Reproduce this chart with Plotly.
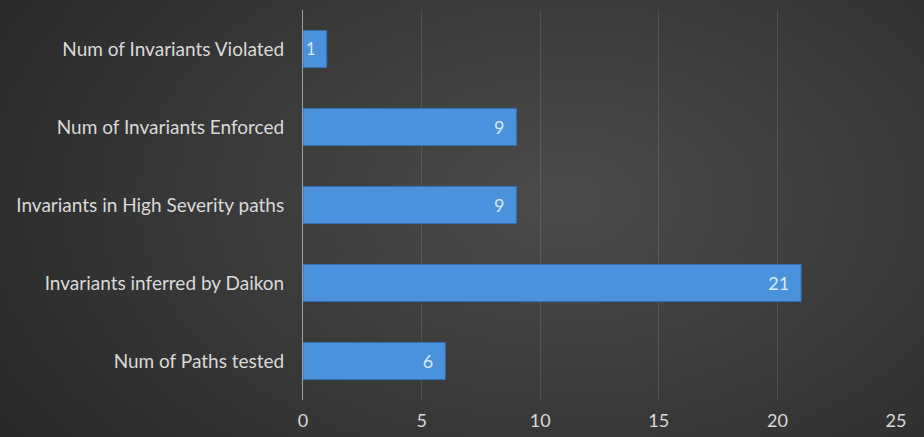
import plotly.graph_objects as go

categories = ["Num of Paths tested", "Invariants inferred by Daikon",
              "Invariants in High Severity paths", "Num of Invariants Enforced",
              "Num of Invariants Violated"]
values = [6, 21, 9, 9, 1]
x_ticks = [0, 5, 10, 15, 20, 25]

W, H = 924, 437
ML, MR, MT, MB = 303, 28, 10, 37
pw, ph = W - ML - MR, H - MT - MB

def px2paper_x(px):
    return (px - ML) / pw

def px2paper_y(py):
    return (H - MB - py) / ph

shapes = []
cx, cy = 560, 200
n = 40
for i in range(n):
    f = 1 - i / n
    rx, ry = 760 * f, 480 * f
    shapes.append(dict(type="circle", xref="paper", yref="paper", layer="below",
                       x0=px2paper_x(cx - rx), x1=px2paper_x(cx + rx),
                       y0=px2paper_y(cy + ry), y1=px2paper_y(cy - ry),
                       fillcolor="rgba(255,255,255,0.0068)", line=dict(width=0)))

fig = go.Figure(go.Bar(
    y=categories, x=values, orientation="h",
    marker=dict(color="#4b92dd", line=dict(color="#3470b0", width=1)),
    text=[str(v) for v in values], texttemplate="%{text}\u2002",
    textposition="inside", insidetextanchor="end",
    textfont=dict(family="Lato", size=18, color="#dce9f7"),
    hoverinfo="skip",
))

fig.update_layout(
    width=W, height=H, margin=dict(l=ML, r=MR, t=MT, b=MB),
    paper_bgcolor="#232323", plot_bgcolor="rgba(0,0,0,0)",
    bargap=0.525, showlegend=False, shapes=shapes,
    font=dict(family="Lato", color="#d9d9d9"),
)
fig.update_xaxes(range=[0, 25], tickvals=x_ticks, showgrid=True,
                 gridcolor="rgba(255,255,255,0.11)", gridwidth=1,
                 zeroline=False, showline=False, automargin=False,
                 tickfont=dict(size=18, color="#d9d9d9"), ticklabelstandoff=8)
fig.update_yaxes(showline=True, linecolor="#a0a0a0", linewidth=1, showgrid=False,
                 automargin=False,
                 tickfont=dict(size=19, color="#d9d9d9"), ticklabelstandoff=14,
                 categoryorder="array", categoryarray=categories)

fig.write_html("out.html")
